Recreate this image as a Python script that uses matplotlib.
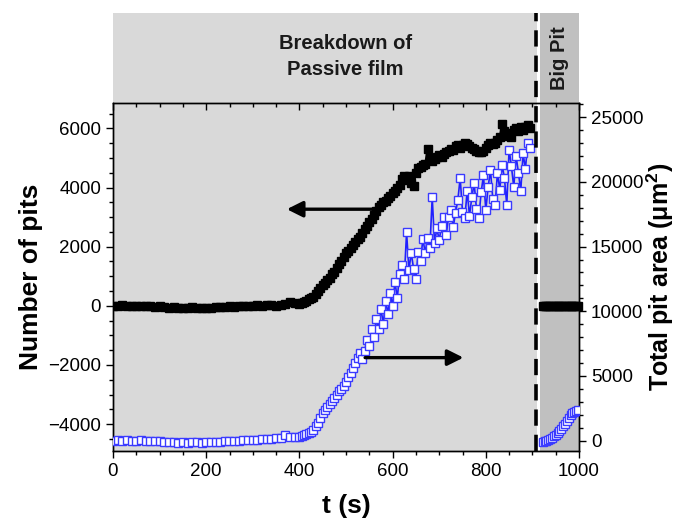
import numpy as np
import matplotlib
matplotlib.use("Agg")
import matplotlib.pyplot as plt
from matplotlib.ticker import MultipleLocator
import matplotlib.transforms as mtransforms

plt.rcParams['font.family'] = ['Liberation Sans', 'DejaVu Sans']
plt.rcParams['mathtext.fontset'] = 'custom'
plt.rcParams['mathtext.rm'] = 'Liberation Sans'
plt.rcParams['mathtext.bf'] = 'Liberation Sans:bold'

# ---------------- data ----------------
# time axis (s)
t_early = np.arange(0, 401, 10)          # 0..400 every 10 s
t_late = np.arange(405, 896, 5)          # 405..895 every 5 s
t_big = np.arange(922, 1001, 4)          # big pit regime

# Number of pits (left axis)
pits_early = [10, 0, 20, 10, -10, 0, 10, -20, -10, -30, -20, -40, -60, -50, -70, -60,
              -70, -50, -60, -80, -70, -60, -50, -40, -30, -20, -30, -10, 0, 10, 0, 20,
              10, 30, 20, 10, 40, 60, 120, 90, 70]
pits_late = [90, 130, 180, 220, 260, 310, 400, 500, 600, 700, 780, 870, 950, 1060, 1150,
             1280, 1400, 1530, 1650, 1780, 1870, 1960, 2060, 2150, 2260, 2340, 2450, 2600,
             2700, 2820, 2950, 3080, 3200, 3330, 3420, 3500, 3550, 3650, 3720, 3810, 3900,
             3980, 4100, 4300, 4380, 4250, 4400, 4150, 4050, 4500, 4650, 4700, 4750, 4800,
             5300, 5000, 4900, 4950, 5050, 5100, 5050, 5150, 5200, 5250, 5300, 5270, 5400,
             5450, 5350, 5450, 5500, 5480, 5400, 5350, 5300, 5250, 5200, 5200, 5250, 5350,
             5450, 5500, 5480, 5520, 5600, 5700, 6150, 5900, 5750, 5850, 5700, 5950, 6000,
             5900, 6050, 5950, 6050, 6100, 6000]
pits_big = [0, 0, 0, 0, 0, 0, 0, 0, 0, 0, 0, 0, 0, 0, 0, 0, 0, 0, 0, 0]

# Total pit area, um^2 (right axis)
area_early = [0, 20, 0, 30, 10, 0, 20, -20, 0, -30, -60, -90, -120, -100, -150, -130,
              -150, -140, -120, -150, -130, -110, -120, -80, -60, -40, -20, 0, 20, 60, 80,
              50, 120, 100, 150, 200, 180, 420, 260, 300, 280]
area_late = [350, 450, 500, 600, 700, 830, 1100, 1400, 1750, 2100, 2350, 2600, 2850, 3050,
             3300, 3500, 3800, 4000, 4250, 4500, 4900, 5200, 5600, 6000, 6400, 6800, 6300,
             6900, 7800, 7300, 8600, 8000, 9400, 8600, 10200, 9000, 10800, 9800, 11400,
             10400, 12300, 11000, 12900, 13600, 12500, 16100, 13200, 14500, 13300, 12500,
             14600, 13900, 15600, 14500, 15700, 14900, 18800, 15300, 16400, 15500, 16600,
             17300, 15900, 17300, 17800, 16500, 17600, 18600, 20300, 17700, 17200, 19300,
             17400, 18800, 19900, 17900, 17200, 19200, 20500, 17800, 19600, 20900, 18700,
             18200, 20700, 19400, 21300, 20300, 18200, 22500, 21200, 19600, 22000, 20700,
             19300, 22200, 21000, 23000, 22600]
area_big = [-80, -40, 10, 70, 140, 230, 330, 450, 600, 760, 930, 1110, 1300, 1500, 1720,
            1950, 2150, 2250, 2300, 2350]

time_main = np.concatenate([t_early, t_late])
pits_main = np.concatenate([pits_early, pits_late])
area_main = np.concatenate([area_early, area_late])

# ---------------- figure ----------------
fig = plt.figure(figsize=(6.75, 5.22), dpi=100)
L, R = 113 / 675, 579 / 675
B, T = 1 - 451 / 522, 1 - 103 / 522
HT = 1 - 13 / 522

light = '#d9d9d9'
dark = '#c0c0c0'
t_dash = 907
t_white0, t_dark0 = 909.5, 916

hdr = fig.add_axes([L, T, R - L, HT - T])
hdr.set_xlim(0, 1000)
hdr.set_ylim(0, 1)
hdr.axvspan(0, t_white0, color=light, lw=0)
hdr.axvspan(t_white0, t_dark0, color='white', lw=0)
hdr.axvspan(t_dark0, 1000, color=dark, lw=0)
for s in hdr.spines.values():
    s.set_visible(False)
hdr.set_xticks([])
hdr.set_yticks([])
hdr.text(498, 0.52, 'Breakdown of\nPassive film', ha='center', va='center',
         fontsize=14.5, fontweight='bold', color='#1a1a1a', linespacing=1.45)
hdr.text(958, 0.5, 'Big Pit', ha='center', va='center', rotation=90,
         fontsize=14.5, fontweight='bold', color='#1a1a1a')

ax = fig.add_axes([L, B, R - L, T - B])
ax.set_xlim(0, 1000)
ax.set_ylim(-4910, 6860)
ax.axvspan(0, t_white0, color=light, lw=0, zorder=0)
ax.axvspan(t_white0, t_dark0, color='white', lw=0, zorder=0)
ax.axvspan(t_dark0, 1000, color=dark, lw=0, zorder=0)

ax.plot(time_main, pits_main, 's-', color='black', ms=6, lw=1.5, zorder=3)
ax.plot(t_big, pits_big, 's-', color='black', ms=6, lw=1.5, zorder=3, clip_on=False)

ax2 = ax.twinx()
ax2.set_ylim(-800, 26100)
ax2.plot(time_main, area_main, 's-', color='#2020ff', mfc='white', mec='#3a3aff',
         mew=1.0, ms=6, lw=1.2, zorder=3)
ax2.plot(t_big, area_big, 's-', color='#2020ff', mfc='white', mec='#3a3aff',
         mew=1.0, ms=6, lw=1.2, zorder=3)

# dashed boundary spanning main plot and header
trans = mtransforms.blended_transform_factory(ax2.transData, ax2.transAxes)
ax2.plot([t_dash, t_dash], [0, (HT - B) / (T - B)], transform=trans, color='black',
         lw=2.6, ls=(0, (4.5, 2.5)), clip_on=False, zorder=5)

# arrows
ax2.annotate('', xy=(373, 3268), xytext=(566, 3268), xycoords=ax.transData,
             textcoords=ax.transData,
             arrowprops=dict(arrowstyle='-|>', lw=2.4, color='black', mutation_scale=24,
                             shrinkA=0, shrinkB=0), zorder=6)
ax2.annotate('', xy=(752, -1752), xytext=(541, -1752), xycoords=ax.transData,
             textcoords=ax.transData,
             arrowprops=dict(arrowstyle='-|>', lw=2.4, color='black', mutation_scale=24,
                             shrinkA=0, shrinkB=0), zorder=6)

# ticks
ax.xaxis.set_major_locator(MultipleLocator(200))
ax.xaxis.set_minor_locator(MultipleLocator(50))
ax.yaxis.set_major_locator(MultipleLocator(2000))
ax.yaxis.set_minor_locator(MultipleLocator(500))
ax2.yaxis.set_major_locator(MultipleLocator(5000))
ax2.yaxis.set_minor_locator(MultipleLocator(1000))
ax.tick_params(axis='both', which='major', direction='out', length=5, width=1,
               labelsize=13.5, top=True)
ax.tick_params(axis='both', which='minor', direction='out', length=3, width=1, top=True)
ax2.tick_params(axis='y', which='major', direction='out', length=5, width=1, labelsize=13.5)
ax2.tick_params(axis='y', which='minor', direction='out', length=3, width=1)
# top ticks point inward
for tk in ax.xaxis.get_major_ticks() + ax.xaxis.get_minor_ticks():
    tk.tick2line.set_marker(matplotlib.lines.TICKDOWN)

for a in (ax, ax2):
    for s in a.spines.values():
        s.set_linewidth(1)
        s.set_color('black')

ax.set_xlabel('t (s)', fontsize=19, fontweight='bold', labelpad=10)
ax.set_ylabel('Number of pits', fontsize=19, fontweight='bold', labelpad=4)
ax2.set_ylabel('Total pit area (μm$^{\\mathregular{2}}$)', fontsize=18,
               fontweight='bold', labelpad=1)

fig.savefig('out.png', dpi=100)
